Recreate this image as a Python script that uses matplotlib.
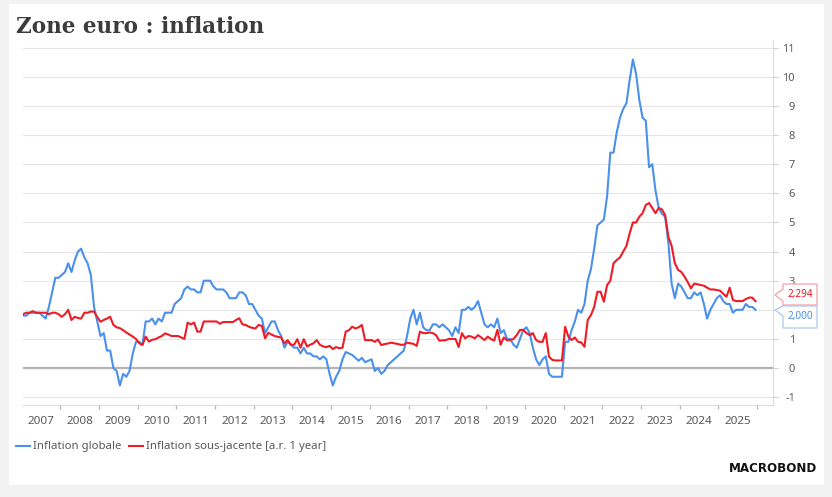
import numpy as np
import matplotlib
matplotlib.use("Agg")
import matplotlib.pyplot as plt
from matplotlib.patches import Rectangle, Polygon

# ---------------- data (monthly, Jan 2007 - Dec 2025) ----------------
years = list(range(2007, 2026))

headline = [
    1.8, 1.8, 1.9, 1.9, 1.9, 1.9, 1.8, 1.7, 2.1, 2.6, 3.1, 3.1,      # 2007
    3.2, 3.3, 3.6, 3.3, 3.7, 4.0, 4.1, 3.8, 3.6, 3.2, 2.1, 1.6,      # 2008
    1.1, 1.2, 0.6, 0.6, 0.0, -0.1, -0.6, -0.2, -0.3, -0.1, 0.5, 0.9, # 2009
    0.9, 0.8, 1.6, 1.6, 1.7, 1.5, 1.7, 1.6, 1.9, 1.9, 1.9, 2.2,      # 2010
    2.3, 2.4, 2.7, 2.8, 2.7, 2.7, 2.6, 2.6, 3.0, 3.0, 3.0, 2.8,      # 2011
    2.7, 2.7, 2.7, 2.6, 2.4, 2.4, 2.4, 2.6, 2.6, 2.5, 2.2, 2.2,      # 2012
    2.0, 1.8, 1.7, 1.2, 1.4, 1.6, 1.6, 1.3, 1.1, 0.7, 0.9, 0.8,      # 2013
    0.7, 0.7, 0.5, 0.7, 0.5, 0.5, 0.4, 0.4, 0.3, 0.4, 0.3, -0.2,     # 2014
    -0.6, -0.3, -0.1, 0.3, 0.55, 0.5, 0.45, 0.35, 0.25, 0.35, 0.2, 0.25,  # 2015
    0.3, -0.1, 0.0, -0.2, -0.1, 0.1, 0.2, 0.3, 0.4, 0.5, 0.6, 1.1,   # 2016
    1.7, 2.0, 1.5, 1.9, 1.4, 1.3, 1.3, 1.5, 1.5, 1.4, 1.5, 1.4,      # 2017
    1.3, 1.1, 1.4, 1.2, 2.0, 2.0, 2.1, 2.0, 2.1, 2.3, 1.9, 1.5,      # 2018
    1.4, 1.5, 1.4, 1.7, 1.2, 1.3, 1.0, 1.0, 0.8, 0.7, 1.0, 1.3,      # 2019
    1.4, 1.2, 0.7, 0.3, 0.1, 0.3, 0.4, -0.2, -0.3, -0.3, -0.3, -0.3, # 2020
    0.9, 0.9, 1.3, 1.6, 2.0, 1.9, 2.2, 3.0, 3.4, 4.1, 4.9, 5.0,      # 2021
    5.1, 5.9, 7.4, 7.4, 8.1, 8.6, 8.9, 9.1, 9.9, 10.6, 10.1, 9.2,    # 2022
    8.6, 8.5, 6.9, 7.0, 6.1, 5.5, 5.3, 5.2, 4.3, 2.9, 2.4, 2.9,      # 2023
    2.8, 2.6, 2.4, 2.4, 2.6, 2.5, 2.6, 2.2, 1.7, 2.0, 2.2, 2.4,      # 2024
    2.5, 2.3, 2.2, 2.2, 1.9, 2.0, 2.0, 2.0, 2.2, 2.1, 2.1, 2.0,      # 2025
]

core = [
    1.85, 1.9, 1.9, 1.95, 1.9, 1.9, 1.9, 1.9, 1.85, 1.9, 1.9, 1.85,  # 2007
    1.76, 1.85, 2.0, 1.65, 1.76, 1.72, 1.7, 1.9, 1.9, 1.94, 1.94, 1.75,  # 2008
    1.59, 1.65, 1.7, 1.76, 1.48, 1.4, 1.37, 1.3, 1.22, 1.15, 1.08, 1.0,  # 2009
    0.85, 0.79, 1.08, 0.91, 0.97, 0.99, 1.05, 1.1, 1.19, 1.15, 1.1, 1.1, # 2010
    1.1, 1.05, 1.0, 1.56, 1.5, 1.56, 1.25, 1.25, 1.6, 1.6, 1.6, 1.6,    # 2011
    1.6, 1.52, 1.58, 1.58, 1.58, 1.58, 1.65, 1.71, 1.5, 1.48, 1.42, 1.38,  # 2012
    1.36, 1.48, 1.45, 1.02, 1.21, 1.15, 1.1, 1.07, 1.05, 0.85, 0.96, 0.8,  # 2013
    0.8, 0.99, 0.7, 0.99, 0.74, 0.8, 0.85, 0.96, 0.8, 0.74, 0.72, 0.76,    # 2014
    0.65, 0.72, 0.68, 0.7, 1.25, 1.3, 1.42, 1.36, 1.4, 1.48, 0.96, 0.96,   # 2015
    0.96, 0.9, 0.98, 0.79, 0.82, 0.84, 0.87, 0.85, 0.83, 0.8, 0.8, 0.87,   # 2016
    0.85, 0.83, 0.76, 1.25, 1.2, 1.2, 1.22, 1.2, 1.13, 0.94, 0.95, 0.96,   # 2017
    1.0, 1.0, 1.0, 0.72, 1.2, 1.02, 1.1, 1.08, 1.02, 1.13, 1.05, 0.96,     # 2018
    1.08, 1.0, 0.94, 1.31, 0.8, 1.05, 0.95, 0.96, 1.0, 1.13, 1.31, 1.31,   # 2019
    1.2, 1.13, 1.2, 0.96, 0.9, 0.9, 1.2, 0.39, 0.28, 0.26, 0.26, 0.26,     # 2020
    1.42, 1.08, 0.96, 1.05, 0.9, 0.88, 0.73, 1.65, 1.82, 2.1, 2.62, 2.62,  # 2021
    2.28, 2.85, 3.0, 3.6, 3.71, 3.8, 4.0, 4.2, 4.63, 5.0, 5.0, 5.2,        # 2022
    5.32, 5.6, 5.67, 5.5, 5.32, 5.5, 5.45, 5.25, 4.5, 4.2, 3.6, 3.37,      # 2023
    3.3, 3.14, 2.95, 2.74, 2.9, 2.88, 2.85, 2.83, 2.76, 2.7, 2.7, 2.68,    # 2024
    2.66, 2.55, 2.45, 2.76, 2.34, 2.3, 2.3, 2.3, 2.37, 2.42, 2.42, 2.294,  # 2025
]

year_labels = [str(y) for y in years]
y_ticks = list(range(-1, 12))
series_names = ["Inflation globale", "Inflation sous-jacente [a.r. 1 year]"]
title = "Zone euro : inflation"

BLUE = "#4a90ec"
RED = "#ee1c25"
GREY_TXT = "#595959"

W, H = 832, 497


def px(x, y):
    return (x / W, 1 - y / H)


dates = np.array([y + (m + 0.5) / 12 for y in years for m in range(12)])

plt.rcParams['font.family'] = ['Noto Sans', 'DejaVu Sans']

fig = plt.figure(figsize=(W / 100, H / 100), dpi=100)
fig.patch.set_facecolor("#f2f2f2")
fig.add_artist(Rectangle(px(9, 485), (824 - 9) / W, (485 - 4) / H,
                         transform=fig.transFigure, facecolor="white",
                         edgecolor="none", zorder=0))

ax = fig.add_axes([23 / W, 1 - 405 / H, 750 / W, 365 / H])
ax.set_facecolor("white")

ax.plot(dates, headline, color=BLUE, lw=1.5, label=series_names[0], zorder=3,
        solid_joinstyle="round")
ax.plot(dates, core, color=RED, lw=1.5, label=series_names[1], zorder=4,
        solid_joinstyle="round")

ax.set_xlim(2007.04, 2026.41)
ax.set_ylim(-1.27, 11.27)

# grid & zero line
ax.set_yticks(y_ticks)
# the "2" label sits behind the last-value callouts, as in the original
ax.set_yticklabels(["" if t == 2 else str(t) for t in y_ticks])
ax.grid(axis="y", color="#e6e6e6", lw=0.8, zorder=0)
ax.axhline(0, color="#b5b5b5", lw=1.6, zorder=2)

# spines
for s in ("top", "left"):
    ax.spines[s].set_visible(False)
for s in ("right", "bottom"):
    ax.spines[s].set_color("#dcdcdc")
    ax.spines[s].set_linewidth(0.8)

# y axis on the right
ax.yaxis.tick_right()
ax.tick_params(axis="y", length=3.6, width=0.8, color="#d0d0d0",
               labelcolor=GREY_TXT, labelsize=8, pad=12.2)
for lab in ax.get_yticklabels():
    lab.set_horizontalalignment("right")

# x axis: year boundaries as ticks, labels centred in each year
ax.set_xticks([y + 1 for y in years])
ax.set_xticklabels([])
ax.set_xticks([y + 0.5 for y in years], minor=True)
ax.set_xticklabels(year_labels, minor=True)
ax.tick_params(axis="x", which="major", length=3, width=0.9, color="#b5b5b5",
               direction="out")
ax.tick_params(axis="x", which="minor", length=0, pad=8,
               labelcolor=GREY_TXT, labelsize=8.4)

# legend
fig.legend(loc="center left", bbox_to_anchor=px(16, 447), ncol=2,
           frameon=False, fontsize=8.2, labelcolor=GREY_TXT,
           handlelength=1.2, handletextpad=0.25, columnspacing=0.75,
           borderaxespad=0, borderpad=0)

# title
fig.text(*px(16, 33), title, fontfamily="DejaVu Serif", fontweight="bold",
         fontsize=15.5, color="#3c3c3c", va="baseline", ha="left")

# logo
fig.text(*px(817, 468), "MACROBOND", ha="right", va="center",
         fontfamily="DejaVu Sans", fontweight="bold", fontsize=8.6,
         color="#111111")


# last-value callouts
def callout(top, bottom, tip_y, text, edge, col):
    x0, x1 = 783, 817
    base_top = max(top, tip_y - 6)
    base_bot = min(bottom, tip_y + 6)
    pts = [(x0, top), (x1, top), (x1, bottom), (x0, bottom),
           (x0, base_bot), (775, tip_y), (x0, base_top)]
    poly = Polygon([px(a, b) for a, b in pts], closed=True,
                   transform=fig.transFigure, facecolor="white",
                   edgecolor=edge, lw=0.9, zorder=5)
    fig.add_artist(poly)
    fig.text(*px((x0 + x1) / 2 + 0.5, (top + bottom) / 2), text,
             ha="center", va="center", fontsize=7.2, color=col, zorder=6)


def fmt(v):
    return f"{v:.3f}".replace(".", ",")


callout(284, 305, 295, fmt(core[-1]), "#f5a3a6", RED)
callout(306, 328, 310, fmt(headline[-1]), "#a9c9f2", BLUE)

fig.savefig("out.png", dpi=100, facecolor=fig.get_facecolor())
